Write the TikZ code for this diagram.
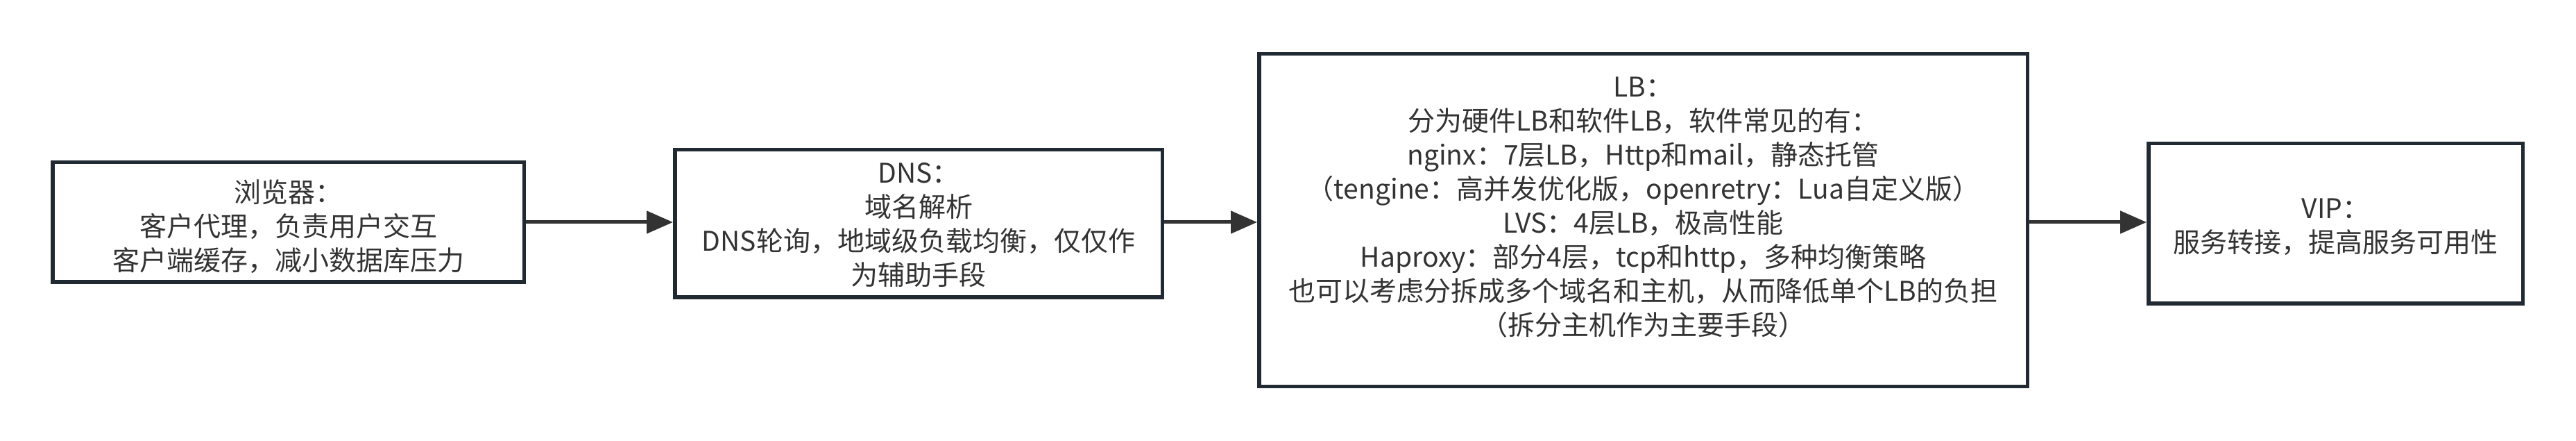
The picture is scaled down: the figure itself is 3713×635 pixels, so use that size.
\documentclass[tikz,border=0pt]{standalone}
\usepackage{fontspec}
\setmainfont{Noto Sans CJK SC}
\usetikzlibrary{arrows.meta}
\definecolor{boxline}{HTML}{212A32}
\definecolor{ink}{HTML}{333333}
\begin{document}
\begin{tikzpicture}[x=0.5pt,y=-0.5pt,
  box/.style={draw=boxline,line width=2.75pt,fill=white,inner sep=0pt},
  txt/.style={text=ink,align=center,font=\fontsize{19.5pt}{24.5pt}\selectfont,inner sep=0pt},
  link/.style={draw=ink,line width=2.5pt,-{Triangle[length=19pt,width=16pt]}}]
\useasboundingbox[fill=white] (0,0) rectangle (3713,635);
\node[box,minimum width=339.75pt,minimum height=86.25pt] (b1) at (415.5,320) {};
\node[box,minimum width=351.25pt,minimum height=106.25pt] (b2) at (1324,322) {};
\node[box,minimum width=553.75pt,minimum height=239.25pt] (b3) at (2368.5,317) {};
\node[box,minimum width=269.75pt,minimum height=115.25pt] (b4) at (3366.5,322) {};
\node[txt] (t1) at (415.5,326) {浏览器：\\客户代理，负责用户交互\\客户端缓存，减小数据库压力};
\node[txt] (t2) at (1324,324) {DNS：\\域名解析\\DNS轮询，地域级负载均衡，仅仅作\\为辅助手段};
\node[txt] (t3) at (2368.5,299) {LB：\\分为硬件LB和软件LB，软件常见的有：\\nginx：7层LB，Http和mail，静态托管\\（tengine：高并发优化版，openretry：Lua自定义版）\\LVS：4层LB，极高性能\\Haproxy：部分4层，tcp和http，多种均衡策略\\也可以考虑分拆成多个域名和主机，从而降低单个LB的负担\\（拆分主机作为主要手段）};
\node[txt] (t4) at (3366.5,327) {VIP：\\服务转接，提高服务可用性};
\draw[link] (b1.east) -- (b1.east -| b2.west);
\draw[link] (b2.east |- b1.east) -- (b1.east -| b3.west);
\draw[link] (b3.east |- b1.east) -- (b1.east -| b4.west);
\end{tikzpicture}
\end{document}
